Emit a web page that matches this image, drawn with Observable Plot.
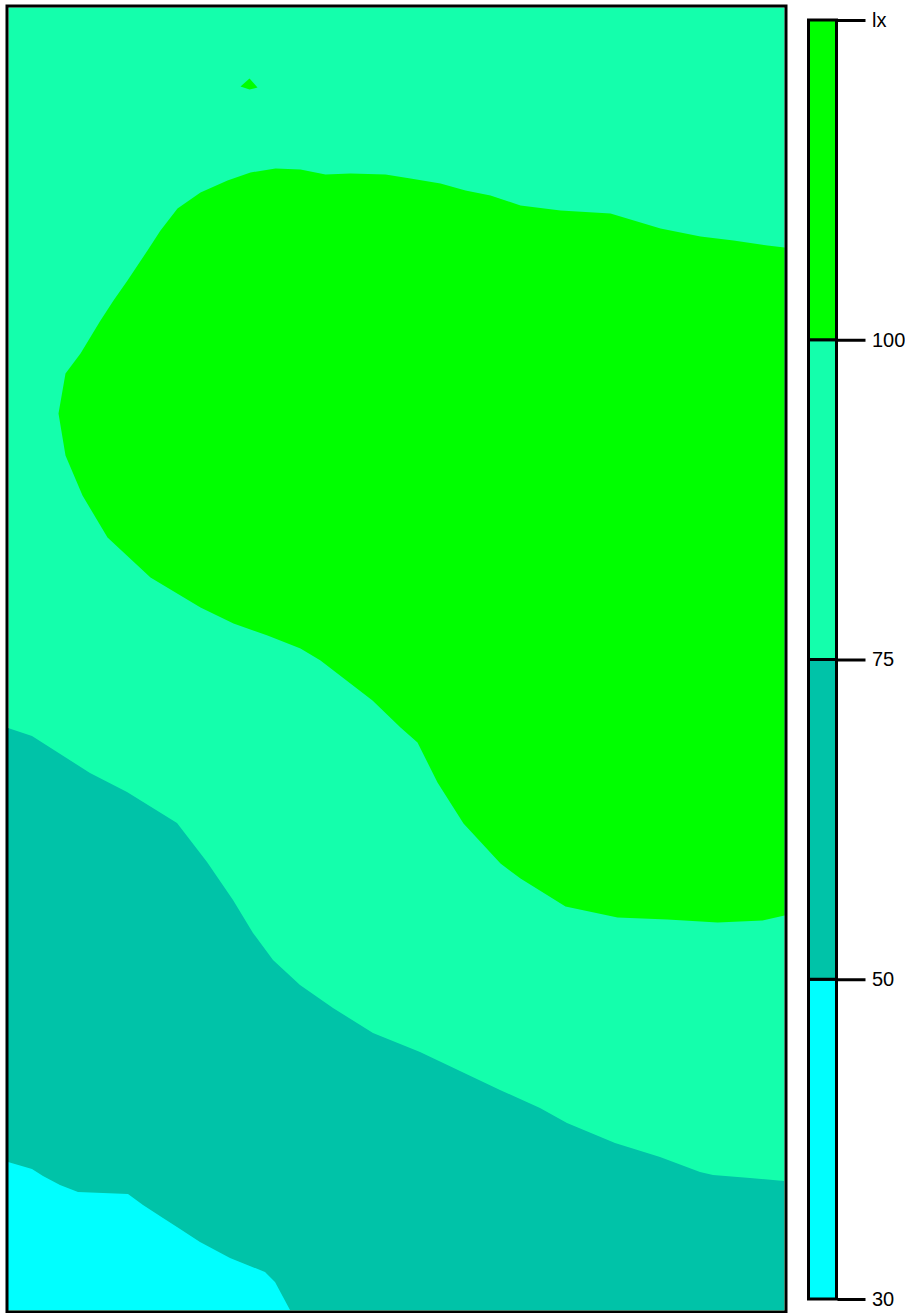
<!DOCTYPE html>
<html>
<head>
<meta charset="utf-8">
<script src="https://cdn.jsdelivr.net/npm/d3@7"></script>
<script src="https://cdn.jsdelivr.net/npm/@observablehq/plot@0.6"></script>
<style>
  html, body { margin: 0; padding: 0; background: #fff; }
  #wrap { position: relative; width: 905px; height: 1313px; overflow: hidden; }
  #main, #bar { position: absolute; top: 0; }
  #main { left: 0; }
  #bar { left: 790px; }
</style>
</head>
<body>
<div id="wrap"><div id="main"></div><div id="bar"></div></div>
<script>
// Contour levels and colours (legend)
const levels = ["30", "50", "75", "100", "lx"];
const bandColors = ["#00FFFF", "#00C3A8", "#14FFAC", "#00FF00"];

// Plot extent (data units)
const xExtent = [0, 776];
const yExtent = [0, 1303];

// 100 contour (region above 100, touching right edge)
const c100X = [776,759,725,692,652,632,602,552,512,482,457,432,402,377,342,317,292,267,242,219,192,169,152,139,119,105,92,72,57,50,57,74,99,142,192,225,259,292,312,364,392,409,429,455,492,512,557,609,659,709,754,776];
const c100Y = [1063,1065,1070,1074,1082,1088,1097,1100,1105,1115,1120,1127,1132,1136,1137,1136,1141,1142,1138,1130,1118,1102,1080,1060,1030,1010,990,957,937,897,855,815,773,733,703,687,675,662,650,610,583,568,528,487,447,432,404,393,391,388,390,395];

// small island above 100
const islandX = [241,249,241,232];
const islandY = [1232,1223,1221,1224];

// 75 contour (below it: 50–75 band)
const c75X = [0,24,82,119,169,199,225,245,265,292,325,365,412,452,492,532,559,607,652,692,705,742,776];
const c75Y = [582,574,537,518,487,448,410,377,350,325,302,277,258,239,220,202,187,167,153,138,135,132,129];

// 50 contour (below it: 30–50 band)
const c50X = [0,24,35,52,70,120,135,155,169,192,222,257,267,282];
const c50Y = [148,141,134,125,118,116,105,92,83,68,52,38,28,0];

const c100 = c100X.map((x, i) => ({x, y: c100Y[i], z: "main"}))
  .concat(islandX.map((x, i) => ({x, y: islandY[i], z: "island"})));
const c75 = c75X.map((x, i) => ({x, y: c75Y[i]}));
const c50 = c50X.map((x, i) => ({x, y: c50Y[i]}));

const font = "'Liberation Sans', Arial, Helvetica, sans-serif";

const main = Plot.plot({
  width: 790,
  height: 1313,
  marginLeft: 8,
  marginRight: 6,
  marginTop: 7,
  marginBottom: 3,
  x: {domain: xExtent, axis: null},
  y: {domain: yExtent, axis: null},
  style: {background: "transparent", fontFamily: font},
  marks: [
    Plot.frame({fill: bandColors[2], stroke: "none"}),
    Plot.areaY(c75, {x: "x", y: "y", fill: bandColors[1], curve: "linear"}),
    Plot.areaY(c50, {x: "x", y: "y", fill: bandColors[0], curve: "linear"}),
    Plot.line(c100, {x: "x", y: "y", z: "z", fill: bandColors[3], stroke: "none", curve: "linear"}),
    Plot.frame({stroke: "black", strokeWidth: 3, inset: -1.5})
  ]
});
document.getElementById("main").appendChild(main);

const bands = bandColors.map((c, i) => ({lo: i, hi: i + 1, color: c}));

const bar = Plot.plot({
  width: 115,
  height: 1313,
  marginLeft: 18.5,
  marginRight: 68.5,
  marginTop: 20,
  marginBottom: 14,
  x: {domain: [0, 1], axis: null},
  y: {domain: [0, levels.length - 1]},
  style: {background: "transparent", fontFamily: font, fontSize: "20px", color: "black"},
  marks: [
    Plot.rect(bands, {x1: 0, x2: 1, y1: "lo", y2: "hi", fill: "color", stroke: "black", strokeWidth: 3}),
    Plot.axisY({
      anchor: "right",
      ticks: d3.range(levels.length),
      tickFormat: (d) => levels[d],
      tickSize: 28,
      tickPadding: 7,
      strokeWidth: 3,
      fontSize: 20,
      fill: "black",
      label: null
    })
  ]
});
document.getElementById("bar").appendChild(bar);
</script>
</body>
</html>
